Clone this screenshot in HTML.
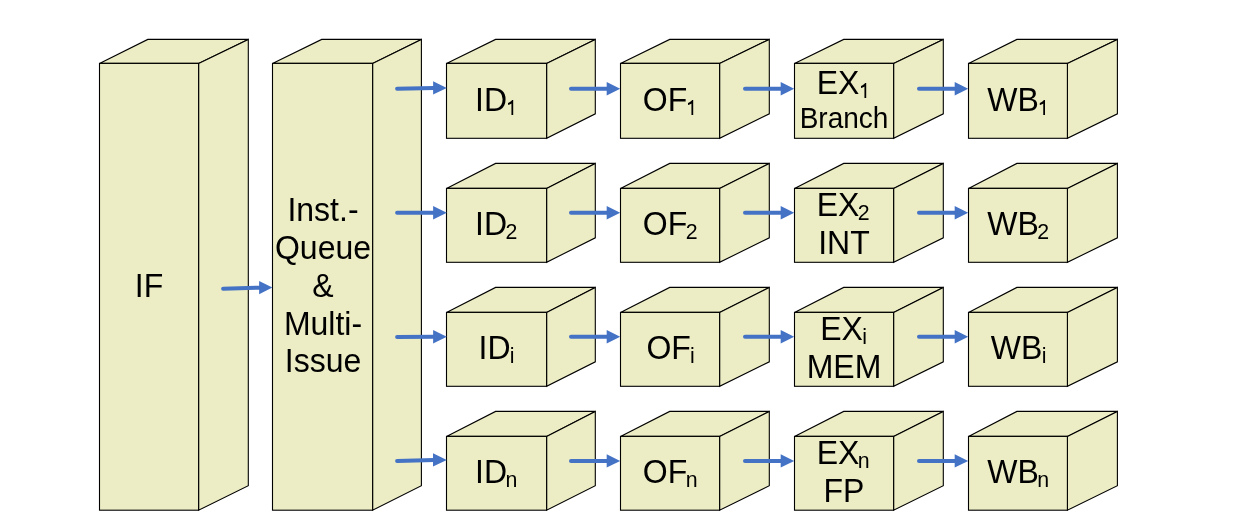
<!DOCTYPE html>
<html><head><meta charset="utf-8"><style>
html,body{margin:0;padding:0;background:#fff;width:1236px;height:530px;overflow:hidden}
svg{position:absolute;left:0;top:0}
.t{position:absolute;width:300px;line-height:40px;font-family:'Liberation Sans', sans-serif;color:#000;white-space:nowrap;text-align:center;filter:grayscale(1)}
.s{font-size:22px;position:relative;top:4px;left:-1.6px}
.o{color:transparent}
.si{left:-0.8px}
</style></head><body>
<svg width="1236" height="530" viewBox="0 0 1236 530">
<g fill="#ECECC5" stroke="#000" stroke-width="1.1">
<polygon points="99.5,63.4 147.8,39.4 248.3,39.4 198.6,63.4"/><polygon points="198.6,63.4 248.3,39.4 248.3,485.70 198.6,510.2"/><rect x="99.5" y="63.4" width="99.10" height="446.80"/>
<polygon points="272.5,63.4 321.7,39.4 421.4,39.4 372.6,63.4"/><polygon points="372.6,63.4 421.4,39.4 421.4,485.70 372.6,510.2"/><rect x="272.5" y="63.4" width="100.10" height="446.80"/>
<polygon points="446.5,63.4 495.6,39.4 595.3,39.4 546.6,63.4"/><polygon points="546.6,63.4 595.3,39.4 595.3,113.80 546.6,138.3"/><rect x="446.5" y="63.4" width="100.10" height="74.90"/>
<polygon points="620.5,63.4 669.7,39.4 769.3,39.4 719.6,63.4"/><polygon points="719.6,63.4 769.3,39.4 769.3,113.80 719.6,138.3"/><rect x="620.5" y="63.4" width="99.10" height="74.90"/>
<polygon points="794.5,63.4 843.7,39.4 943.3,39.4 893.6,63.4"/><polygon points="893.6,63.4 943.3,39.4 943.3,113.80 893.6,138.3"/><rect x="794.5" y="63.4" width="99.10" height="74.90"/>
<polygon points="968.5,63.4 1016.9,39.4 1117.4,39.4 1067.4,63.4"/><polygon points="1067.4,63.4 1117.4,39.4 1117.4,113.80 1067.4,138.3"/><rect x="968.5" y="63.4" width="98.90" height="74.90"/>
<polygon points="446.5,188.4 495.6,163.4 595.3,163.4 546.6,188.4"/><polygon points="546.6,188.4 595.3,163.4 595.3,237.80 546.6,262.3"/><rect x="446.5" y="188.4" width="100.10" height="73.90"/>
<polygon points="620.5,188.4 669.7,163.4 769.3,163.4 719.6,188.4"/><polygon points="719.6,188.4 769.3,163.4 769.3,237.80 719.6,262.3"/><rect x="620.5" y="188.4" width="99.10" height="73.90"/>
<polygon points="794.5,188.4 843.7,163.4 943.3,163.4 893.6,188.4"/><polygon points="893.6,188.4 943.3,163.4 943.3,237.80 893.6,262.3"/><rect x="794.5" y="188.4" width="99.10" height="73.90"/>
<polygon points="968.5,188.4 1016.9,163.4 1117.4,163.4 1067.4,188.4"/><polygon points="1067.4,188.4 1117.4,163.4 1117.4,237.80 1067.4,262.3"/><rect x="968.5" y="188.4" width="98.90" height="73.90"/>
<polygon points="446.5,312.4 495.6,287.4 595.3,287.4 546.6,312.4"/><polygon points="546.6,312.4 595.3,287.4 595.3,361.80 546.6,386.3"/><rect x="446.5" y="312.4" width="100.10" height="73.90"/>
<polygon points="620.5,312.4 669.7,287.4 769.3,287.4 719.6,312.4"/><polygon points="719.6,312.4 769.3,287.4 769.3,361.80 719.6,386.3"/><rect x="620.5" y="312.4" width="99.10" height="73.90"/>
<polygon points="794.5,312.4 843.7,287.4 943.3,287.4 893.6,312.4"/><polygon points="893.6,312.4 943.3,287.4 943.3,361.80 893.6,386.3"/><rect x="794.5" y="312.4" width="99.10" height="73.90"/>
<polygon points="968.5,312.4 1016.9,287.4 1117.4,287.4 1067.4,312.4"/><polygon points="1067.4,312.4 1117.4,287.4 1117.4,361.80 1067.4,386.3"/><rect x="968.5" y="312.4" width="98.90" height="73.90"/>
<polygon points="446.5,436.4 495.6,411.4 595.3,411.4 546.6,436.4"/><polygon points="546.6,436.4 595.3,411.4 595.3,485.70 546.6,510.2"/><rect x="446.5" y="436.4" width="100.10" height="73.80"/>
<polygon points="620.5,436.4 669.7,411.4 769.3,411.4 719.6,436.4"/><polygon points="719.6,436.4 769.3,411.4 769.3,485.70 719.6,510.2"/><rect x="620.5" y="436.4" width="99.10" height="73.80"/>
<polygon points="794.5,436.4 843.7,411.4 943.3,411.4 893.6,436.4"/><polygon points="893.6,436.4 943.3,411.4 943.3,485.70 893.6,510.2"/><rect x="794.5" y="436.4" width="99.10" height="73.80"/>
<polygon points="968.5,436.4 1016.9,411.4 1117.4,411.4 1067.4,436.4"/><polygon points="1067.4,436.4 1117.4,411.4 1117.4,485.70 1067.4,510.2"/><rect x="968.5" y="436.4" width="98.90" height="73.80"/>
</g>
<g stroke="#4472C4" stroke-width="4" stroke-linecap="round" fill="#4472C4">
<line x1="223.10" y1="288.7" x2="260.10" y2="287.7"/><polygon stroke="none" points="259.10,280.90 272.40,287.6 259.10,294.30"/>
<line x1="397.10" y1="88.8" x2="434.10" y2="87.9"/><polygon stroke="none" points="433.10,81.20 446.80,87.9 433.10,94.60"/>
<line x1="397.10" y1="212.8" x2="434.10" y2="212.7"/><polygon stroke="none" points="433.10,206.00 446.80,212.7 433.10,219.40"/>
<line x1="397.10" y1="336.9" x2="434.10" y2="336.8"/><polygon stroke="none" points="433.10,330.10 446.80,336.8 433.10,343.50"/>
<line x1="397.10" y1="460.9" x2="434.00" y2="459.9"/><polygon stroke="none" points="433.00,453.20 446.80,459.9 433.00,466.60"/>
<line x1="571.00" y1="88.7" x2="607.70" y2="88.7"/><polygon stroke="none" points="606.70,82.00 620.20,88.7 606.70,95.40"/>
<line x1="745.00" y1="88.7" x2="781.70" y2="88.7"/><polygon stroke="none" points="780.70,82.00 794.20,88.7 780.70,95.40"/>
<line x1="919.00" y1="88.7" x2="955.70" y2="88.7"/><polygon stroke="none" points="954.70,82.00 968.20,88.7 954.70,95.40"/>
<line x1="571.00" y1="212.7" x2="607.70" y2="212.7"/><polygon stroke="none" points="606.70,206.00 620.20,212.7 606.70,219.40"/>
<line x1="745.00" y1="212.7" x2="781.70" y2="212.7"/><polygon stroke="none" points="780.70,206.00 794.20,212.7 780.70,219.40"/>
<line x1="919.00" y1="212.7" x2="955.70" y2="212.7"/><polygon stroke="none" points="954.70,206.00 968.20,212.7 954.70,219.40"/>
<line x1="571.00" y1="336.8" x2="607.70" y2="336.8"/><polygon stroke="none" points="606.70,330.10 620.20,336.8 606.70,343.50"/>
<line x1="745.00" y1="336.8" x2="781.70" y2="336.8"/><polygon stroke="none" points="780.70,330.10 794.20,336.8 780.70,343.50"/>
<line x1="919.00" y1="336.8" x2="955.70" y2="336.8"/><polygon stroke="none" points="954.70,330.10 968.20,336.8 954.70,343.50"/>
<line x1="571.00" y1="460.9" x2="607.70" y2="460.9"/><polygon stroke="none" points="606.70,454.20 620.20,460.9 606.70,467.60"/>
<line x1="745.00" y1="460.9" x2="781.70" y2="460.9"/><polygon stroke="none" points="780.70,454.20 794.20,460.9 780.70,467.60"/>
<line x1="919.00" y1="460.9" x2="955.70" y2="460.9"/><polygon stroke="none" points="954.70,454.20 968.20,460.9 954.70,467.60"/>
</g>
<g fill="#000"><path transform="translate(513.2,115)" d="M0,0L-1.75,0L-1.75,-11.5C-2.5,-10.9 -3.6,-10.4 -5.2,-10.1L-5.2,-12.0C-3.6,-12.6 -2.1,-13.8 -1.1,-15.0L0,-15.0Z"/><path transform="translate(693.2,115)" d="M0,0L-1.75,0L-1.75,-11.5C-2.5,-10.9 -3.6,-10.4 -5.2,-10.1L-5.2,-12.0C-3.6,-12.6 -2.1,-13.8 -1.1,-15.0L0,-15.0Z"/><path transform="translate(866.2,98)" d="M0,0L-1.75,0L-1.75,-11.5C-2.5,-10.9 -3.6,-10.4 -5.2,-10.1L-5.2,-12.0C-3.6,-12.6 -2.1,-13.8 -1.1,-15.0L0,-15.0Z"/><path transform="translate(1045.0,115)" d="M0,0L-1.75,0L-1.75,-11.5C-2.5,-10.9 -3.6,-10.4 -5.2,-10.1L-5.2,-12.0C-3.6,-12.6 -2.1,-13.8 -1.1,-15.0L0,-15.0Z"/></g>
</svg>
<div class="t" style="left:-0.70px;top:266px;font-size:33px;transform:scaleX(0.9697)">IF</div>
<div class="t" style="left:172.60px;top:190px;font-size:33px;transform:scaleX(0.9697)">Inst.-</div>
<div class="t" style="left:172.60px;top:228px;font-size:33px;transform:scaleX(0.9697)">Queue</div>
<div class="t" style="left:172.60px;top:266px;font-size:33px;transform:scaleX(0.9697)">&amp;</div>
<div class="t" style="left:172.60px;top:304px;font-size:33px;transform:scaleX(0.9697)">Multi-</div>
<div class="t" style="left:172.60px;top:341px;font-size:33px;transform:scaleX(0.9697)">Issue</div>
<div class="t" style="left:347.25px;top:80px;font-size:33px;transform:scaleX(0.9697)">ID<span class="s o">1</span></div>
<div class="t" style="left:520.75px;top:80px;font-size:33px;transform:scaleX(0.9697)">OF<span class="s o">1</span></div>
<div class="t" style="left:694.30px;top:63px;font-size:33px;transform:scaleX(0.9697)">EX<span class="s o">1</span></div>
<div class="t" style="left:694.30px;top:98px;font-size:29px;transform:scaleX(0.9655)">Branch</div>
<div class="t" style="left:868.65px;top:80px;font-size:33px;transform:scaleX(0.9697)">WB<span class="s o">1</span></div>
<div class="t" style="left:347.25px;top:204px;font-size:33px;transform:scaleX(0.9697)">ID<span class="s">2</span></div>
<div class="t" style="left:520.75px;top:204px;font-size:33px;transform:scaleX(0.9697)">OF<span class="s">2</span></div>
<div class="t" style="left:694.30px;top:185px;font-size:33px;transform:scaleX(0.9697)">EX<span class="s">2</span></div>
<div class="t" style="left:694.30px;top:223px;font-size:33px;transform:scaleX(0.9697)">INT</div>
<div class="t" style="left:868.65px;top:204px;font-size:33px;transform:scaleX(0.9697)">WB<span class="s">2</span></div>
<div class="t" style="left:347.25px;top:328px;font-size:33px;transform:scaleX(0.9697)">ID<span class="s si">i</span></div>
<div class="t" style="left:520.75px;top:328px;font-size:33px;transform:scaleX(0.9697)">OF<span class="s si">i</span></div>
<div class="t" style="left:694.30px;top:309px;font-size:33px;transform:scaleX(0.9697)">EX<span class="s si">i</span></div>
<div class="t" style="left:694.30px;top:347px;font-size:33px;transform:scaleX(0.9697)">MEM</div>
<div class="t" style="left:868.65px;top:328px;font-size:33px;transform:scaleX(0.9697)">WB<span class="s si">i</span></div>
<div class="t" style="left:347.25px;top:452px;font-size:33px;transform:scaleX(0.9697)">ID<span class="s">n</span></div>
<div class="t" style="left:520.75px;top:452px;font-size:33px;transform:scaleX(0.9697)">OF<span class="s">n</span></div>
<div class="t" style="left:694.30px;top:433px;font-size:33px;transform:scaleX(0.9697)">EX<span class="s">n</span></div>
<div class="t" style="left:694.30px;top:471px;font-size:33px;transform:scaleX(0.9697)">FP</div>
<div class="t" style="left:868.65px;top:452px;font-size:33px;transform:scaleX(0.9697)">WB<span class="s">n</span></div>
</body></html>
